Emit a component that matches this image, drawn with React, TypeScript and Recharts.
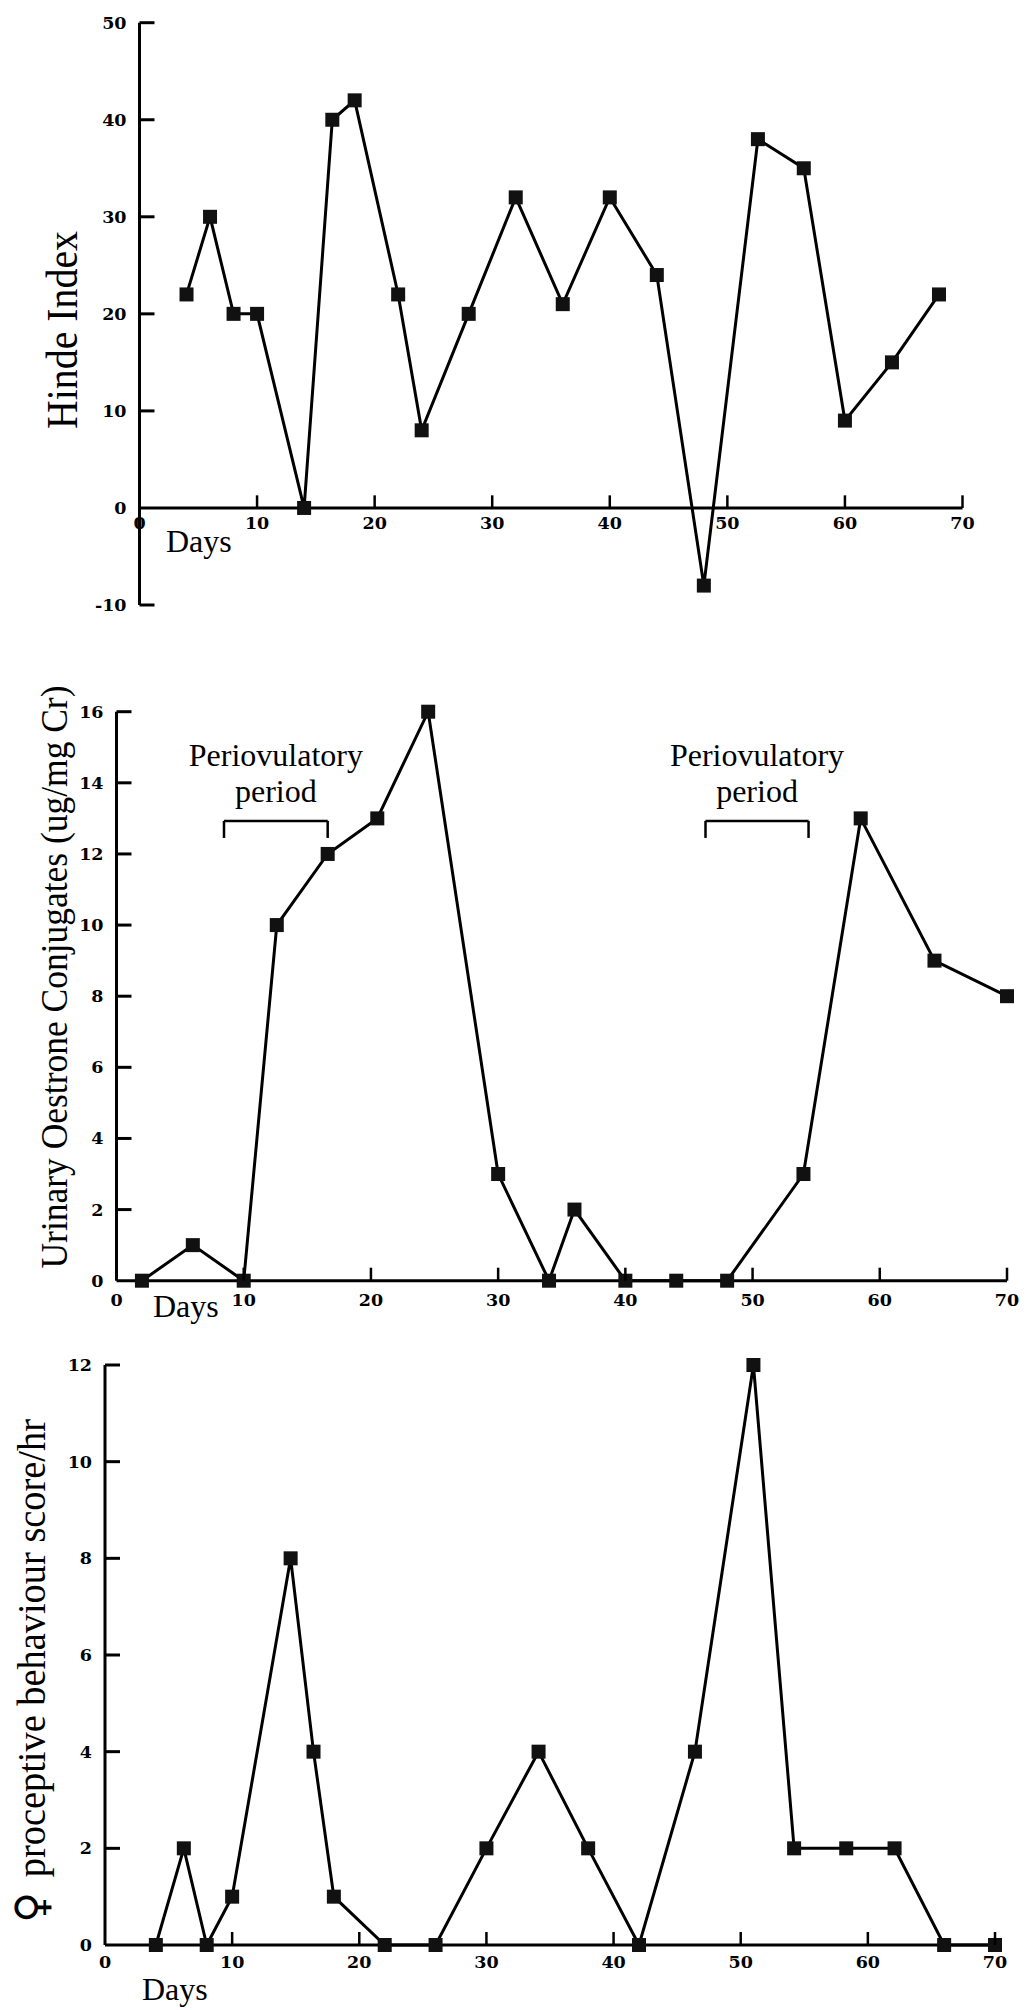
import React from 'react';
import { LineChart, Line, XAxis, YAxis, ReferenceLine } from 'recharts';

const SERIF = '"Liberation Serif", "Times New Roman", serif';
const NUM_FONT = '"DejaVu Serif", serif';

// top panel: Hinde index
const hindeDays = [4, 6, 8, 10, 14, 16.4, 18.3, 22, 24, 28, 32, 36, 40, 44, 48, 52.6, 56.5, 60, 64, 68];
const hindeValues = [22, 30, 20, 20, 0, 40, 42, 22, 8, 20, 32, 21, 32, 24, -8, 38, 35, 9, 15, 22];
const hindeTicks = [-10, 0, 10, 20, 30, 40, 50];

// middle panel: urinary oestrone conjugates
const oestroneDays = [2, 6, 10, 12.6, 16.6, 20.5, 24.5, 30, 34, 36, 40, 44, 48, 54, 58.5, 64.3, 70];
const oestroneValues = [0, 1, 0, 10, 12, 13, 16, 3, 0, 2, 0, 0, 0, 3, 13, 9, 8];
const oestroneTicks = [0, 2, 4, 6, 8, 10, 12, 14, 16];
const periodStart = [8.45, 46.3];
const periodEnd = [16.6, 54.4];
const bracketTop = 12.93;
const bracketFoot = 12.45;

// bottom panel: proceptive behaviour
const proceptiveDays = [4, 6.2, 8, 10, 14.6, 16.4, 18, 22, 26, 30, 34.1, 38, 42, 46.4, 51, 54.2, 58.3, 62.1, 66, 70];
const proceptiveValues = [0, 2, 0, 1, 8, 4, 1, 0, 0, 2, 4, 2, 0, 4, 12, 2, 2, 2, 0, 0];
const proceptiveTicks = [0, 2, 4, 6, 8, 10, 12];

const dayTicks = [0, 10, 20, 30, 40, 50, 60, 70];

const toRows = (days: number[], values: number[]) => days.map((day, i) => ({ day, v: values[i] }));

function Square(props: any) {
  const { cx, cy, index } = props;
  if (cx == null || cy == null) return <g key={`sq-${index}`} />;
  return <rect key={`sq-${index}`} x={cx - 7} y={cy - 7} width={14} height={14} fill="#111" />;
}

// y ticks point into the plot
const yTick = (props: any) => {
  const { x, y, payload } = props;
  const v = payload.value;
  return (
    <g>
      {v !== 0 && <line x1={x} y1={y} x2={x + 15} y2={y} stroke="#000" strokeWidth={3} />}
      <text x={x - 13} y={y + 6} textAnchor="end" fontFamily={NUM_FONT} fontWeight="bold" fontSize={17.5} fill="#000">
        {v}
      </text>
    </g>
  );
};

const makeXTick = (labelDy: number, daysDx: number, daysDy: number) => (props: any) => {
  const { x, y, payload } = props;
  const v = payload.value;
  return (
    <g>
      {v !== 0 && <line x1={x} y1={y} x2={x} y2={y - 13} stroke="#000" strokeWidth={2.5} />}
      <text x={x} y={y + labelDy} textAnchor="middle" fontFamily={NUM_FONT} fontWeight="bold" fontSize={17.5} fill="#000">
        {v}
      </text>
      {v === 0 && (
        <text x={x + daysDx} y={y + daysDy} fontFamily={SERIF} fontSize={32} fill="#000">
          Days
        </text>
      )}
    </g>
  );
};

// tick labels for the top panel, whose day axis sits at zero
function AxisNumber(props: any) {
  const { viewBox, tick } = props;
  const base = viewBox.y + viewBox.height;
  return (
    <g>
      <text x={viewBox.x} y={base + 21} textAnchor="middle" fontFamily={NUM_FONT} fontWeight="bold" fontSize={17.5} fill="#000">
        {tick}
      </text>
      {tick === 0 && (
        <text x={viewBox.x + 26.5} y={base + 44} fontFamily={SERIF} fontSize={32} fill="#000">
          Days
        </text>
      )}
    </g>
  );
}

function BracketLabel(props: any) {
  const { viewBox } = props;
  const cx = viewBox.x + viewBox.width / 2;
  return (
    <g fontFamily={SERIF} fontSize={32} fill="#000">
      <text x={cx} y={viewBox.y - 55} textAnchor="middle">Periovulatory</text>
      <text x={cx} y={viewBox.y - 19} textAnchor="middle">period</text>
    </g>
  );
}

function YTitle(props: any) {
  const { cx, cy, size, len, title, symbol } = props;
  return (
    <text
      transform={`translate(${cx},${cy}) rotate(-90)`}
      textAnchor="middle"
      dominantBaseline="central"
      fontFamily={SERIF}
      fontSize={size}
      textLength={len}
      lengthAdjust="spacingAndGlyphs"
      fill="#000"
    >
      {symbol && (
        <tspan fontFamily='"DejaVu Sans", sans-serif' fontWeight="bold" fontSize={size + 4}>
          {symbol}
        </tspan>
      )}
      {title}
    </text>
  );
}

const axisStroke = { stroke: '#000', strokeWidth: 3 };

export default function App() {
  return (
    <div style={{ position: 'absolute', left: 0, top: 0, width: 1028, height: 2010, background: '#fff', overflow: 'hidden' }}>
      {/* Hinde index */}
      <div style={{ position: 'absolute', left: 0, top: 0 }}>
        <LineChart width={1028} height={640} data={toRows(hindeDays, hindeValues)} margin={{ top: 22.7, right: 65.5, bottom: 35, left: 0 }}>
          <XAxis type="number" dataKey="day" domain={[0, 70]} hide />
          <YAxis
            type="number"
            domain={[-10, 50]}
            ticks={hindeTicks}
            interval={0}
            width={139.5}
            axisLine={axisStroke}
            tickLine={false}
            tickSize={0}
            tickMargin={0}
            tick={yTick}
            label={<YTitle cx={62} cy={330} size={44} len={198} title="Hinde Index" />}
          />
          <ReferenceLine y={0} stroke="#000" strokeWidth={3} />
          {dayTicks.map((t) => (
            <ReferenceLine
              key={`ht-${t}`}
              segment={[{ x: t, y: 0 }, { x: t, y: 1.3 }]}
              stroke="#000"
              strokeWidth={2.5}
              label={<AxisNumber tick={t} />}
            />
          ))}
          <Line type="linear" dataKey="v" stroke="#000" strokeWidth={3} dot={Square} activeDot={false} isAnimationActive={false} />
        </LineChart>
      </div>

      {/* Urinary oestrone conjugates */}
      <div style={{ position: 'absolute', left: 0, top: 640 }}>
        <LineChart width={1028} height={700} data={toRows(oestroneDays, oestroneValues)} margin={{ top: 71.7, right: 21, bottom: 0, left: 0 }}>
          <XAxis
            type="number"
            dataKey="day"
            domain={[0, 70]}
            ticks={dayTicks}
            interval={0}
            height={59.3}
            axisLine={axisStroke}
            tickLine={false}
            tickSize={0}
            tickMargin={0}
            tick={makeXTick(25, 36.5, 36.5)}
          />
          <YAxis
            type="number"
            domain={[0, 16]}
            ticks={oestroneTicks}
            interval={0}
            width={116.5}
            axisLine={axisStroke}
            tickLine={false}
            tickSize={0}
            tickMargin={0}
            tick={yTick}
            label={<YTitle cx={54} cy={337} size={38} len={583} title="Urinary Oestrone Conjugates (ug/mg Cr)" />}
          />
          {periodStart.map((s, i) => (
            <ReferenceLine
              key={`bt-${i}`}
              segment={[{ x: s, y: bracketTop }, { x: periodEnd[i], y: bracketTop }]}
              stroke="#000"
              strokeWidth={2.5}
              label={<BracketLabel />}
            />
          ))}
          {periodStart.map((s, i) => (
            <ReferenceLine key={`bl-${i}`} segment={[{ x: s, y: bracketFoot }, { x: s, y: bracketTop }]} stroke="#000" strokeWidth={2.5} />
          ))}
          {periodEnd.map((e, i) => (
            <ReferenceLine key={`br-${i}`} segment={[{ x: e, y: bracketFoot }, { x: e, y: bracketTop }]} stroke="#000" strokeWidth={2.5} />
          ))}
          <Line type="linear" dataKey="v" stroke="#000" strokeWidth={3} dot={Square} activeDot={false} isAnimationActive={false} />
        </LineChart>
      </div>

      {/* Proceptive behaviour */}
      <div style={{ position: 'absolute', left: 0, top: 1340 }}>
        <LineChart width={1028} height={670} data={toRows(proceptiveDays, proceptiveValues)} margin={{ top: 25, right: 33, bottom: 0, left: 0 }}>
          <XAxis
            type="number"
            dataKey="day"
            domain={[0, 70]}
            ticks={dayTicks}
            interval={0}
            height={65}
            axisLine={axisStroke}
            tickLine={false}
            tickSize={0}
            tickMargin={0}
            tick={makeXTick(23, 37, 55)}
          />
          <YAxis
            type="number"
            domain={[0, 12]}
            ticks={proceptiveTicks}
            interval={0}
            width={105}
            axisLine={axisStroke}
            tickLine={false}
            tickSize={0}
            tickMargin={0}
            tick={yTick}
            label={<YTitle cx={31} cy={331} size={39} len={504} symbol="♀ " title="proceptive behaviour score/hr" />}
          />
          <Line type="linear" dataKey="v" stroke="#000" strokeWidth={3} dot={Square} activeDot={false} isAnimationActive={false} />
        </LineChart>
      </div>
    </div>
  );
}
